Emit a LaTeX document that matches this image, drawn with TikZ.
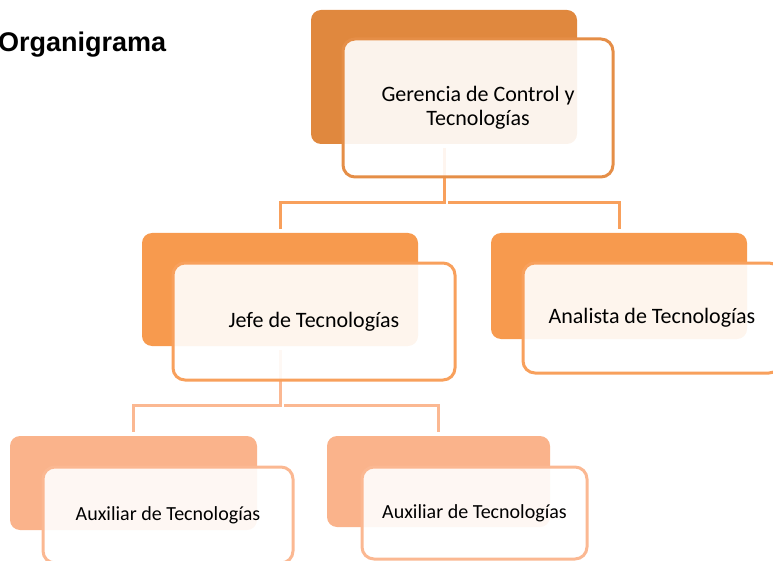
\documentclass[tikz,border=0pt]{standalone}
\usepackage{fontspec}
\setmainfont{Carlito}
\newfontfamily\titlefont{Liberation Sans}
\usetikzlibrary{calc}

\definecolor{gerback}{HTML}{E0883E}
\definecolor{geredge}{HTML}{E58E47}
\definecolor{midback}{HTML}{F79A4E}
\definecolor{midedge}{HTML}{F8A05C}
\definecolor{lowback}{HTML}{FAB38B}
\definecolor{lowedge}{HTML}{FBB892}

\tikzset{
	backbox/.style={rectangle, rounded corners=10pt, fill=#1, draw=none, inner sep=0pt, outer sep=0pt},
	frontbox/.style={rectangle, rounded corners=12pt, draw=#1, line width=3pt, fill=white,
		fill opacity=0.9, text opacity=1, inner sep=0pt, outer sep=0pt, align=center},
	conn/.style={draw=#1, line width=3pt, shorten <=4pt, shorten >=4pt}
}

\begin{document}
\begin{tikzpicture}[x=1pt,y=-1pt]
	\useasboundingbox (0,0) rectangle (773,561);
	\def\bigfont{\fontsize{22}{24}\selectfont} % box text
	\def\smallfont{\fontsize{20}{22}\selectfont} % box text, lowest level
	
	% title
	\node[anchor=base west, inner sep=0pt, font=\titlefont\bfseries\fontsize{27}{30}\selectfont] (title) at (-2,52) {Organigrama};
	
	% back boxes
	\node[backbox=gerback, minimum width=266pt, minimum height=134pt] (gerB) at (444,77) {};
	\node[backbox=midback, minimum width=276pt, minimum height=113pt] (jefeB) at (280,289.5) {};
	\node[backbox=midback, minimum width=256pt, minimum height=106pt] (anaB) at (619,286) {};
	\node[backbox=lowback, minimum width=247pt, minimum height=94pt] (auxaB) at (133.5,483) {};
	\node[backbox=lowback, minimum width=223pt, minimum height=91pt] (auxbB) at (438.5,481.5) {};
	
	% bus lines
	\coordinate (busA) at (0,203);
	\coordinate (busB) at (0,405);
	\draw[conn=midedge] (gerB.south) -- (gerB.south |- busA) -| (jefeB.north);
	\draw[conn=midedge] (gerB.south |- busA) -| (anaB.north);
	\draw[conn=lowedge] (jefeB.south) -- (jefeB.south |- busB) -| (auxaB.north);
	\draw[conn=lowedge] (jefeB.south |- busB) -| (auxbB.north);
	
	% front boxes
	\node[frontbox=geredge, minimum width=270pt, minimum height=138pt, font=\bigfont] (ger) at (478,108) {Gerencia de Control y\\Tecnologías};
	\node[frontbox=midedge, minimum width=282pt, minimum height=117pt, font=\bigfont] (jefe) at (314,321.5) {Jefe de Tecnologías};
	\node[frontbox=midedge, minimum width=258pt, minimum height=110pt, font=\bigfont] (ana) at (652,318) {Analista de Tecnologías};
	\node[frontbox=lowedge, minimum width=250pt, minimum height=96pt, font=\smallfont] (auxa) at (168,515) {Auxiliar de Tecnologías};
	\node[frontbox=lowedge, minimum width=225pt, minimum height=92pt, font=\smallfont] (auxb) at (474.5,513) {Auxiliar de Tecnologías};
\end{tikzpicture}
\end{document}
